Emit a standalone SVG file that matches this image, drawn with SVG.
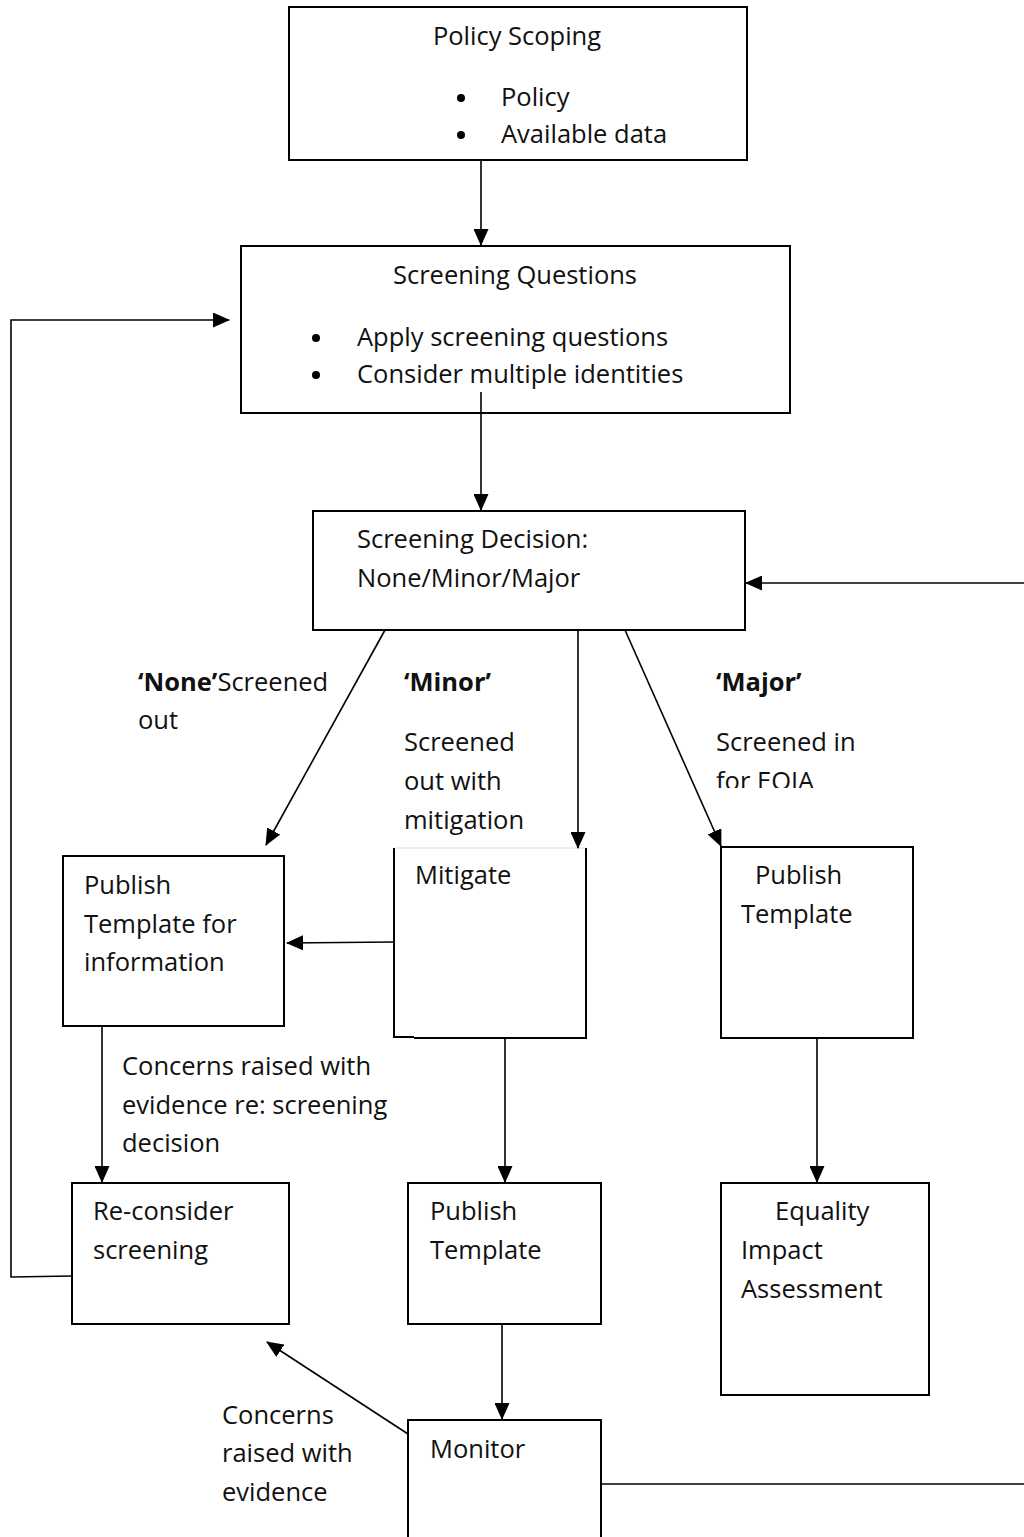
<svg xmlns="http://www.w3.org/2000/svg" width="1024" height="1537" viewBox="0 0 1024 1537">
<style>
.box{fill:#fff;stroke:#000;stroke-width:2}
.t{font-family:"Open Sans","Liberation Sans",Arial,sans-serif;font-size:25.5px;fill:#111}
.b{font-weight:bold}
.c{fill:none;stroke:#000;stroke-width:1.6}
</style>
<defs>
<marker id="ah" markerUnits="userSpaceOnUse" markerWidth="17" markerHeight="15" refX="16" refY="7.5" orient="auto">
<path d="M0,0 L17,7.5 L0,15 Z" fill="#000"/>
</marker>
<clipPath id="clipMajor"><rect x="700" y="650" width="200" height="138"/></clipPath>
</defs>
<rect width="1024" height="1537" fill="#fff"/>

<g id="n-policy-scoping">
<rect class="box" x="289" y="7" width="458" height="153"/>
<text class="t" x="517" y="45" text-anchor="middle">Policy Scoping</text>
<circle cx="461" cy="98" r="4"/>
<text class="t" x="501" y="106">Policy</text>
<circle cx="461" cy="135" r="4"/>
<text class="t" x="501" y="143">Available data</text>
</g>

<g id="n-screening-questions">
<rect class="box" x="241" y="246" width="549" height="167"/>
<text class="t" x="515" y="284" text-anchor="middle">Screening Questions</text>
<circle cx="316" cy="338" r="4"/>
<text class="t" x="357" y="346">Apply screening questions</text>
<circle cx="316" cy="375" r="4"/>
<text class="t" x="357" y="383">Consider multiple identities</text>
</g>

<g id="n-screening-decision">
<rect class="box" x="313" y="511" width="432" height="119"/>
<text class="t" x="357" y="548">Screening Decision:</text>
<text class="t" x="357" y="587">None/Minor/Major</text>
</g>

<g id="n-publish-info">
<rect class="box" x="63" y="856" width="221" height="170"/>
<text class="t" x="84" y="894">Publish</text>
<text class="t" x="84" y="933">Template for</text>
<text class="t" x="84" y="971">information</text>
</g>

<g id="n-mitigate">
<line x1="394" y1="848" x2="586" y2="848" stroke="#ddd" stroke-width="1"/>
<path d="M394,848 V1037 H414 M414,1038 H586 V848" fill="none" stroke="#000" stroke-width="2"/>
<text class="t" x="415" y="884">Mitigate</text>
</g>

<g id="n-publish-major">
<rect class="box" x="721" y="847" width="192" height="191"/>
<text class="t" x="755" y="884">Publish</text>
<text class="t" x="741" y="923">Template</text>
</g>

<g id="n-reconsider">
<rect class="box" x="72" y="1183" width="217" height="141"/>
<text class="t" x="93" y="1220">Re-consider</text>
<text class="t" x="93" y="1259">screening</text>
</g>

<g id="n-publish-minor">
<rect class="box" x="408" y="1183" width="193" height="141"/>
<text class="t" x="430" y="1220">Publish</text>
<text class="t" x="430" y="1259">Template</text>
</g>

<g id="n-eia">
<rect class="box" x="721" y="1183" width="208" height="212"/>
<text class="t" x="775" y="1220">Equality</text>
<text class="t" x="741" y="1259">Impact</text>
<text class="t" x="741" y="1298">Assessment</text>
</g>

<g id="n-monitor">
<rect class="box" x="408" y="1420" width="193" height="130"/>
<text class="t" x="430" y="1458">Monitor</text>
</g>

<g id="connectors">
<line class="c" x1="481" y1="160" x2="481" y2="245" marker-end="url(#ah)"/>
<polyline class="c" points="72,1276 11,1277 11,320 229,320" marker-end="url(#ah)"/>
<line class="c" x1="481" y1="392" x2="481" y2="510" marker-end="url(#ah)"/>
<line class="c" x1="1024" y1="583" x2="746" y2="583" marker-end="url(#ah)"/>
<line class="c" x1="385" y1="630" x2="266" y2="845" marker-end="url(#ah)"/>
<line class="c" x1="578" y1="630" x2="578" y2="848" marker-end="url(#ah)"/>
<line class="c" x1="625" y1="630" x2="721" y2="846" marker-end="url(#ah)"/>
<line class="c" x1="394" y1="942" x2="287" y2="943" marker-end="url(#ah)"/>
<line class="c" x1="505" y1="1038" x2="505" y2="1182" marker-end="url(#ah)"/>
<line class="c" x1="817" y1="1038" x2="817" y2="1182" marker-end="url(#ah)"/>
<line class="c" x1="102" y1="1026" x2="102" y2="1182" marker-end="url(#ah)"/>
<line class="c" x1="502" y1="1324" x2="502" y2="1419" marker-end="url(#ah)"/>
<line class="c" x1="408" y1="1434" x2="267" y2="1342" marker-end="url(#ah)"/>
<line class="c" x1="601" y1="1484" x2="1024" y2="1484"/>
</g>

<g id="labels">
<text class="t" x="138" y="691"><tspan class="b">‘None’</tspan>Screened</text>
<text class="t" x="138" y="729">out</text>
<text class="t b" x="404" y="691">‘Minor’</text>
<text class="t" x="404" y="751">Screened</text>
<text class="t" x="404" y="790">out with</text>
<text class="t" x="404" y="829">mitigation</text>
<text class="t b" x="716" y="691">‘Major’</text>
<text class="t" x="716" y="751">Screened in</text>
<g clip-path="url(#clipMajor)"><text class="t" x="716" y="790">for EQIA</text></g>
<text class="t" x="122" y="1075">Concerns raised with</text>
<text class="t" x="122" y="1114">evidence re: screening</text>
<text class="t" x="122" y="1152">decision</text>
<text class="t" x="222" y="1424">Concerns</text>
<text class="t" x="222" y="1462">raised with</text>
<text class="t" x="222" y="1501">evidence</text>
</g>
</svg>
